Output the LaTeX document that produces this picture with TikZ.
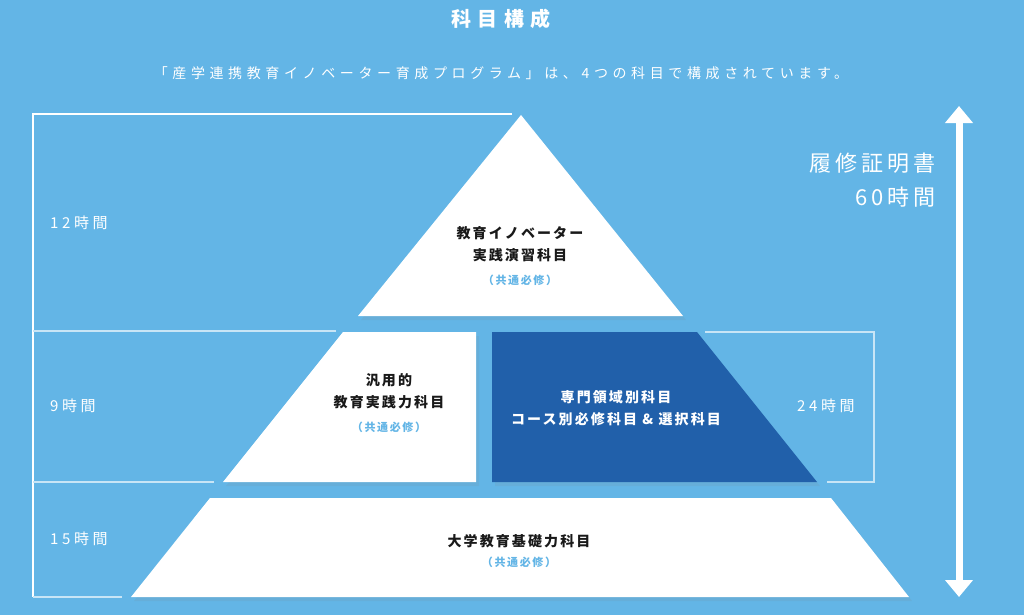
\documentclass[tikz,border=0pt]{standalone}
\usepackage{fontspec}
\setmainfont{Noto Sans CJK JP}
\usetikzlibrary{arrows.meta,shadows}
\definecolor{sky}{RGB}{99,181,230}
\definecolor{navy}{RGB}{33,96,170}
\definecolor{ink}{RGB}{25,25,25}
\newcommand{\spaced}[3]{\fontsize{#1}{#2}\selectfont\addfontfeature{LetterSpace=#3}}
\tikzset{
  >={Triangle[length=17pt,width=27pt]},
  tier/.style={fill=#1,drop shadow={shadow xshift=3pt,shadow yshift=-4pt,opacity=0.12}},
  tier/.default=white,
  rule/.style={draw=white,line width=1.1pt},
  rule soft/.style={draw=white!65!sky,line width=1.3pt},
  hours/.style={font=\spaced{15}{16}{24},text=white,anchor=west,inner sep=0pt},
  subject/.style={font=\bfseries\spaced{14}{22}{15},text=#1,align=center,inner sep=0pt},
  subject/.default=ink,
  common/.style={font=\bfseries\spaced{11}{13}{15},text=sky,inner sep=0pt},
  total/.style={font=\spaced{22}{34}{18},text=white,align=right,anchor=east,inner sep=0pt},
}

\begin{document}
\begin{tikzpicture}[x=1pt,y=-1pt]
  \fill[sky] (0,0) rectangle (1024,615);
  \useasboundingbox (0,0) rectangle (1024,615);

  \node[font=\bfseries\spaced{20}{24}{33},text=white,inner sep=0pt] (title) at (501,19) {科目構成};
  \node[font=\spaced{14}{16}{33},text=white,inner sep=0pt] (lead) at (501,73)
    {「産学連携教育イノベーター育成プログラム」は、4つの科目で構成されています。};

  % hour brackets
  \draw[rule] (512,114) -- (33,114) -- (33,597);
  \draw[rule soft] (336,331) -- (33,331);
  \draw[rule soft] (214,482) -- (33,482);
  \draw[rule soft] (122,597) -- (33,597);
  \draw[rule soft] (705,332) -- (874,332) -- (874,482) -- (827,482);

  % pyramid
  \fill[tier] (521,115) -- (683,316) -- (358,316) -- cycle;
  \fill[tier] (343,332) -- (476,332) -- (476,482) -- (223,482) -- cycle;
  \fill[tier=navy] (492,332) -- (697,332) -- (817,482) -- (492,482) -- cycle;
  \fill[tier] (210,498) -- (831,498) -- (909,597) -- (131,597) -- cycle;

  \node[subject] (top) at (520,244) {教育イノベーター\\実践演習科目};
  \node[common] (top-c) at (520,280) {（共通必修）};
  \node[subject] (general) at (389,391) {汎用的\\教育実践力科目};
  \node[common] (general-c) at (389,427) {（共通必修）};
  \node[subject=white] (field) at (616,408) {専門領域別科目\\コース別必修科目 \& 選択科目};
  \node[subject] (base) at (519,541) {大学教育基礎力科目};
  \node[common] (base-c) at (519,562) {（共通必修）};

  \node[hours] (h12) at (50,223) {12時間};
  \node[hours] (h9) at (50,406) {9時間};
  \node[hours] (h15) at (50,539) {15時間};
  \node[hours] (h24) at (797,406) {24時間};

  \node[total] (cert) at (936,180) {履修証明書\\60時間};
  \coordinate (up) at (959,106);
  \coordinate (down) at (959,597);
  \draw[<->,white,line width=7pt] (up) -- (down);
\end{tikzpicture}
\end{document}
